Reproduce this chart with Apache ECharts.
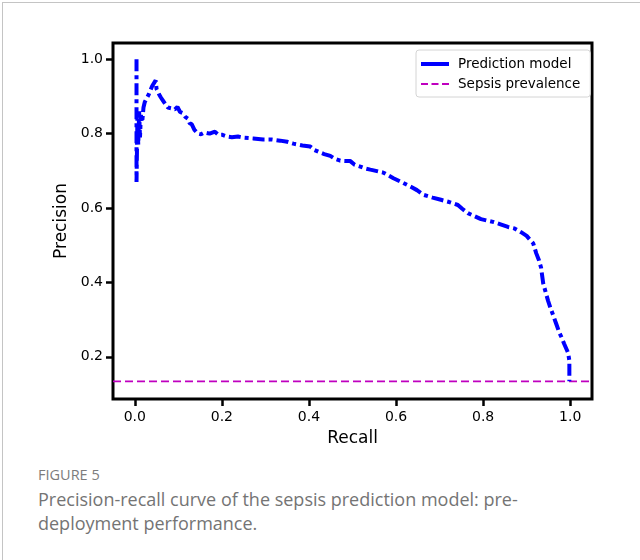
<!DOCTYPE html>
<html>
<head>
<meta charset="utf-8">
<script src="https://cdn.jsdelivr.net/npm/echarts@6/dist/echarts.min.js"></script>
<style>
  html, body { margin: 0; padding: 0; background: #fff; }
  body { width: 640px; height: 560px; position: relative; overflow: hidden; }
  .frame { position: absolute; left: 2px; top: 2px; width: 700px; height: 600px; border: 1px solid #c4c4c4; }
  #chart { position: absolute; left: 0; top: 0; width: 640px; height: 460px; }
  .fig-label { position: absolute; left: 38px; top: 465px; font-family: "Open Sans", sans-serif; font-size: 14.5px; color: #7c7c7c; }
  .fig-caption { position: absolute; left: 38px; top: 487px; width: 580px; font-family: "Open Sans", sans-serif; font-size: 18px; line-height: 24px; color: #747474; }
</style>
</head>
<body>
<div class="frame"></div>
<div id="chart"></div>
<div class="fig-label">FIGURE 5</div>
<div class="fig-caption">Precision-recall curve of the sepsis prediction model: pre-<br>deployment performance.</div>
<script>
// precision-recall points [recall, precision]
const prCurve = [
  [0.004, 1.0], [0.004, 0.67], [0.005, 0.75], [0.006, 0.84], [0.008, 0.77],
  [0.010, 0.86], [0.012, 0.79], [0.014, 0.85], [0.017, 0.83], [0.020, 0.87],
  [0.022, 0.866], [0.023, 0.885], [0.032, 0.905], [0.040, 0.928], [0.048, 0.943],
  [0.050, 0.92], [0.056, 0.905], [0.060, 0.897], [0.064, 0.89], [0.068, 0.885],
  [0.072, 0.876], [0.076, 0.87], [0.080, 0.875], [0.084, 0.868], [0.092, 0.865],
  [0.098, 0.872], [0.104, 0.858], [0.110, 0.855], [0.116, 0.845], [0.122, 0.84],
  [0.126, 0.828], [0.131, 0.825], [0.137, 0.81], [0.145, 0.80], [0.152, 0.798],
  [0.160, 0.803], [0.172, 0.8], [0.184, 0.805], [0.192, 0.797], [0.200, 0.797],
  [0.212, 0.792], [0.223, 0.79], [0.237, 0.792], [0.250, 0.789], [0.272, 0.787],
  [0.295, 0.784], [0.315, 0.784], [0.334, 0.781], [0.350, 0.778], [0.364, 0.773],
  [0.385, 0.768], [0.403, 0.765], [0.412, 0.756], [0.422, 0.751], [0.435, 0.745],
  [0.449, 0.74], [0.460, 0.732], [0.472, 0.727], [0.495, 0.726], [0.505, 0.716],
  [0.518, 0.711], [0.530, 0.706], [0.541, 0.703], [0.556, 0.699], [0.571, 0.695],
  [0.582, 0.688], [0.594, 0.68], [0.612, 0.67], [0.634, 0.657], [0.648, 0.648],
  [0.664, 0.635], [0.684, 0.628], [0.703, 0.622], [0.722, 0.616], [0.742, 0.608],
  [0.752, 0.598], [0.765, 0.586], [0.780, 0.578], [0.795, 0.57], [0.810, 0.566],
  [0.825, 0.562], [0.840, 0.556], [0.857, 0.549], [0.872, 0.545], [0.887, 0.535],
  [0.900, 0.525], [0.908, 0.514], [0.915, 0.505], [0.922, 0.478], [0.928, 0.46],
  [0.933, 0.44], [0.938, 0.397], [0.944, 0.372], [0.949, 0.351], [0.955, 0.33],
  [0.961, 0.311], [0.968, 0.288], [0.975, 0.265], [0.981, 0.25], [0.986, 0.235],
  [0.995, 0.211], [0.998, 0.19], [0.998, 0.134]
];
const prevalence = 0.134;
const xTicks = [0.0, 0.2, 0.4, 0.6, 0.8, 1.0];
const yTicks = [0.2, 0.4, 0.6, 0.8, 1.0];
const seriesNames = ['Prediction model', 'Sepsis prevalence'];

const chart = echarts.init(document.getElementById('chart'));
const font = 'DejaVu Sans';

chart.setOption({
  animation: false,
  grid: {
    left: 113, top: 43, right: 48, bottom: 61,
    show: true, borderColor: '#000', borderWidth: 3
  },
  legend: {
    orient: 'vertical',
    left: 416, top: 50,
    backgroundColor: '#fff',
    borderColor: '#d4d4d4', borderWidth: 1, borderRadius: 3,
    padding: [7, 10, 6, 5],
    itemWidth: 28, itemHeight: 4, itemGap: 6,
    textStyle: { fontFamily: font, fontSize: 13.5, color: '#000', padding: [0, 0, 0, 4] },
    data: [
      { name: seriesNames[0], icon: 'rect', itemStyle: { color: '#0000ff' } },
      { name: seriesNames[1], icon: 'path://M0,0h7v2h-7zM10.5,0h7v2h-7zM21,0h7v2h-7z', itemStyle: { color: '#bf00bf' } }
    ]
  },
  xAxis: {
    type: 'value', min: -0.05, max: 1.05,
    name: 'Recall', nameLocation: 'middle', nameGap: 31,
    nameTextStyle: { fontFamily: font, fontSize: 17, color: '#000' },
    axisLine: { show: false, onZero: false },
    splitLine: { show: false },
    axisTick: { show: true, length: 7, customValues: xTicks, lineStyle: { color: '#000', width: 2.5 } },
    axisLabel: {
      customValues: xTicks, margin: 11,
      fontFamily: font, fontSize: 14, color: '#000',
      formatter: v => v.toFixed(1)
    }
  },
  yAxis: {
    type: 'value', min: 0.0865, max: 1.0435,
    name: 'Precision', nameLocation: 'middle', nameGap: 42,
    nameTextStyle: { fontFamily: font, fontSize: 17, color: '#000' },
    axisLine: { show: false, onZero: false },
    splitLine: { show: false },
    axisTick: { show: true, length: 7, customValues: yTicks, lineStyle: { color: '#000', width: 2.5 } },
    axisLabel: {
      customValues: yTicks, margin: 10,
      fontFamily: font, fontSize: 14, color: '#000',
      formatter: v => v.toFixed(1)
    }
  },
  series: [
    {
      name: seriesNames[0],
      type: 'line',
      data: prCurve,
      showSymbol: false,
      symbol: 'none',
      color: '#0000ff',
      lineStyle: { color: '#0000ff', width: 4, type: [12, 4, 4, 4] },
      z: 3
    },
    {
      name: seriesNames[1],
      type: 'line',
      data: [[-0.05, prevalence], [1.05, prevalence]],
      showSymbol: false,
      symbol: 'none',
      color: '#bf00bf',
      lineStyle: { color: '#bf00bf', width: 1.6, type: [8, 4] },
      z: 2
    }
  ]
});
</script>
</body>
</html>
